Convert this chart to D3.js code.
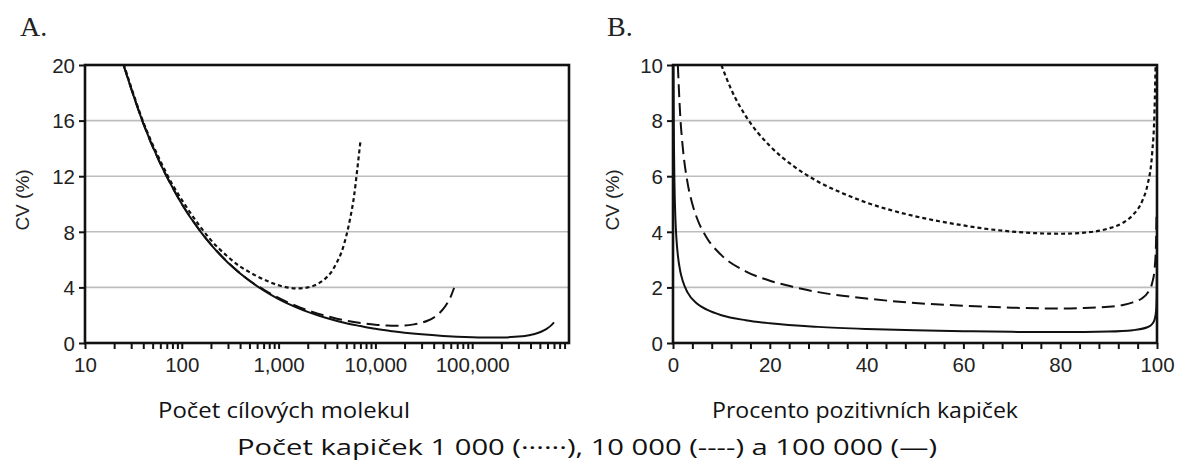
<!doctype html>
<html>
  <head>
    <meta charset="utf-8" />
    <title>CV digitalni PCR</title>
    <script type="text/javascript" src="https://cdnjs.cloudflare.com/ajax/libs/d3/7.8.5/d3.min.js"></script>
    <style>
      body { margin:0; background:#fff; }
      svg { display:block; }
    </style>
  </head>
  <body>
    <div id="chart"></div>
    <script type="text/javascript">

/* panel A: CV (%) vs pocet cilovych molekul, one list of [molecules, cv] per droplet count */
var molA_1k = [[25,20.1],[30,18.4],[40,15.9],[60,13.1],[80,11.4],[100,10.3],[150,8.5],[200,7.4],[300,6.2],
  [400,5.5],[500,5.1],[600,4.8],[800,4.4],[1000,4.15],[1300,3.97],[1600,3.93],[2000,4.0],[2500,4.23],
  [3000,4.6],[3500,5.1],[4000,5.8],[4500,6.6],[5000,7.7],[5500,9.0],[6000,10.5],[6500,12.5],[7000,14.5]];
var molA_10k = [[25,20.0],[30,18.3],[40,15.8],[60,12.9],[80,11.2],[100,10.0],[150,8.2],[200,7.1],[300,5.8],
  [500,4.5],[700,3.85],[1000,3.24],[1500,2.68],[2000,2.35],[3000,1.97],[4000,1.75],[5000,1.61],[7000,1.44],
  [10000,1.31],[13000,1.26],[16000,1.24],[20000,1.26],[25000,1.34],[30000,1.46],[35000,1.62],[40000,1.83],
  [45000,2.1],[50000,2.43],[55000,2.84],[60000,3.34],[65000,3.96]];
var molA_100k = [[25,20.0],[30,18.3],[40,15.8],[60,12.9],[80,11.2],[100,10.0],[150,8.17],[200,7.07],[300,5.78],
  [500,4.48],[700,3.78],[1000,3.16],[1500,2.59],[2000,2.24],[3000,1.83],[5000,1.42],[7000,1.22],[10000,1.02],
  [15000,0.85],[20000,0.744],[30000,0.623],[50000,0.509],[70000,0.455],[100000,0.415],[130000,0.397],
  [160000,0.393],[200000,0.40],[250000,0.423],[300000,0.46],[350000,0.51],[400000,0.58],[450000,0.66],
  [500000,0.77],[550000,0.90],[600000,1.06],[650000,1.25],[700000,1.48]];

/* panel B: CV (%) vs procento pozitivnich kapicek */
var pctB_1k = [[10,10.0],[12,9.13],[15,8.17],[20,7.09],[25,6.35],[30,5.80],[35,5.39],[40,5.05],[45,4.78],
  [50,4.56],[55,4.38],[60,4.23],[65,4.10],[70,4.01],[75,3.95],[80,3.93],[85,3.97],[90,4.12],[93,4.33],
  [95,4.60],[97,5.13],[98,5.66],[99,6.83],[99.5,8.42],[99.7,9.92]];
var pctB_10k = [[1,10.0],[1.5,8.16],[2,7.07],[3,5.77],[4,5.0],[5,4.47],[7,3.78],[10,3.16],[15,2.58],[20,2.24],
  [25,2.01],[30,1.83],[40,1.60],[50,1.44],[60,1.34],[70,1.27],[80,1.24],[85,1.26],[90,1.30],[93,1.37],
  [95,1.46],[97,1.62],[98,1.79],[99,2.16],[99.5,2.66],[99.7,3.14],[99.8,3.6],[99.9,4.57]];
var pctB_100k = [[0.1,10.0],[0.15,8.17],[0.2,7.07],[0.3,5.77],[0.5,4.47],[0.7,3.78],[1,3.16],[1.5,2.58],[2,2.24],
  [3,1.82],[5,1.41],[7,1.20],[10,1.00],[15,0.82],[20,0.709],[30,0.58],[40,0.505],[50,0.456],[60,0.423],
  [70,0.401],[80,0.393],[90,0.412],[95,0.46],[98,0.566],[99,0.683],[99.5,0.842],[99.8,1.14],[99.9,1.45],
  [99.95,1.86],[99.98,2.6],[99.99,3.43]];

var yTicksA = [0, 4, 8, 12, 16, 20];
var yTicksB = [0, 2, 4, 6, 8, 10];
var xLabelsA = [10, 100, 1000, 10000, 100000];
var xTicksB = [0, 20, 40, 60, 80, 100];

var W = 1177, H = 463;
var plotTop = 65, plotBottom = 343;

var svg = d3.select("#chart").append("svg").attr("width", W).attr("height", H);

var styles = {
  k1:   {dash: "4,3", width: 2.2},
  k10:  {dash: "13,6", width: 2},
  k100: {dash: null, width: 2}
};

function panel(opt) {
  var g = svg.append("g");
  var x = opt.x, y = opt.y;
  var x0 = x.range()[0], x1 = x.range()[1];

  var clipId = "clip" + opt.id;
  svg.append("clipPath").attr("id", clipId).append("rect")
    .attr("x", x0).attr("y", plotTop).attr("width", x1 - x0).attr("height", plotBottom - plotTop);

  /* gridlines */
  g.selectAll("line.grid").data(opt.yTicks.slice(1, -1)).enter().append("line")
    .attr("x1", x0).attr("x2", x1)
    .attr("y1", function(d) { return y(d); }).attr("y2", function(d) { return y(d); })
    .attr("stroke", "#bdbdbd").attr("stroke-width", 1.6);

  /* curves */
  var line = d3.line().x(function(d) { return x(d[0]); }).y(function(d) { return y(d[1]); })
    .curve(d3.curveMonotoneX);
  opt.series.forEach(function(s) {
    g.append("path").datum(s.data)
      .attr("clip-path", "url(#" + clipId + ")")
      .attr("d", line)
      .attr("fill", "none").attr("stroke", "#111").attr("stroke-width", styles[s.style].width)
      .attr("stroke-dasharray", styles[s.style].dash);
  });

  /* axes */
  var ya = g.append("g").attr("transform", "translate(" + x0 + ",0)")
    .call(d3.axisLeft(y).tickValues(opt.yTicks).tickSize(6).tickPadding(4));
  var xa = g.append("g").attr("transform", "translate(0," + plotBottom + ")")
    .call(opt.xAxis);
  [ya, xa].forEach(function(a) {
    a.attr("font-size", null).attr("font-family", null);
    a.select(".domain").remove();
    a.selectAll(".tick line").attr("stroke", "#111").attr("stroke-width", 2);
    a.selectAll(".tick text")
      .attr("font-family", "Liberation Sans, Arial, sans-serif")
      .attr("font-size", 20.5).attr("fill", "#222");
  });
  xa.selectAll(".tick text").attr("dy", "0.95em");
  ya.selectAll(".tick text").attr("dy", "0.36em");

  /* frame */
  g.append("rect").attr("x", x0).attr("y", plotTop).attr("width", x1 - x0).attr("height", plotBottom - plotTop)
    .attr("fill", "none").attr("stroke", "#111").attr("stroke-width", 2.6);

  /* panel letter */
  g.append("text").attr("x", opt.letterX).attr("y", 36).text(opt.letter)
    .attr("font-family", "Liberation Serif, serif").attr("font-size", 28).attr("fill", "#222");

  /* y title */
  g.append("text").attr("transform", "translate(" + opt.yTitleX + ",200) rotate(-90)")
    .attr("text-anchor", "middle").text("CV (%)")
    .attr("font-family", "Liberation Sans, Arial, sans-serif").attr("font-size", 19).attr("fill", "#222");

  /* x title */
  g.append("text").attr("x", opt.xTitleX).attr("y", 418).attr("text-anchor", "middle").text(opt.xTitle)
    .attr("font-family", "Open Sans, sans-serif").attr("font-size", 21).attr("fill", "#111")
    .attr("textLength", opt.xTitleW).attr("lengthAdjust", "spacingAndGlyphs");
}

/* panel A */
var xA = d3.scaleLog().domain([10, 1e6]).range([85, 569]);
var yA = d3.scaleLinear().domain([0, 20]).range([plotBottom, plotTop]);
var fmt = d3.format(",");
var minorA = xA.ticks().filter(function(d) { return d < 1e6; });
panel({
  id: "A", x: xA, y: yA, yTicks: yTicksA, letter: "A.", letterX: 20, yTitleX: 29,
  xTitle: "Počet cílových molekul", xTitleX: 284, xTitleW: 252,
  xAxis: d3.axisBottom(xA).tickValues(minorA).tickSize(6).tickPadding(4)
    .tickFormat(function(d) { return xLabelsA.indexOf(d) >= 0 ? fmt(d) : ""; }),
  series: [
    {data: molA_1k, style: "k1"},
    {data: molA_10k, style: "k10"},
    {data: molA_100k, style: "k100"}
  ]
});

/* panel B */
var xB = d3.scaleLinear().domain([0, 100]).range([673, 1157]);
var yB = d3.scaleLinear().domain([0, 10]).range([plotBottom, plotTop]);
panel({
  id: "B", x: xB, y: yB, yTicks: yTicksB, letter: "B.", letterX: 607, yTitleX: 619,
  xTitle: "Procento pozitivních kapiček", xTitleX: 865, xTitleW: 306,
  xAxis: d3.axisBottom(xB).tickValues(d3.range(0, 101, 4)).tickSize(6).tickPadding(4)
    .tickFormat(function(d) { return xTicksB.indexOf(d) >= 0 ? d : ""; }),
  series: [
    {data: pctB_1k, style: "k1"},
    {data: pctB_10k, style: "k10"},
    {data: pctB_100k, style: "k100"}
  ]
});

/* legend line */
svg.append("text").attr("x", 587).attr("y", 455).attr("text-anchor", "middle")
  .text("Počet kapiček 1 000 (······), 10 000 (----) a 100 000 (—)")
  .attr("font-family", "Open Sans, sans-serif").attr("font-size", 21).attr("fill", "#111")
  .attr("textLength", 700).attr("lengthAdjust", "spacingAndGlyphs");

    </script>
  </body>
</html>
